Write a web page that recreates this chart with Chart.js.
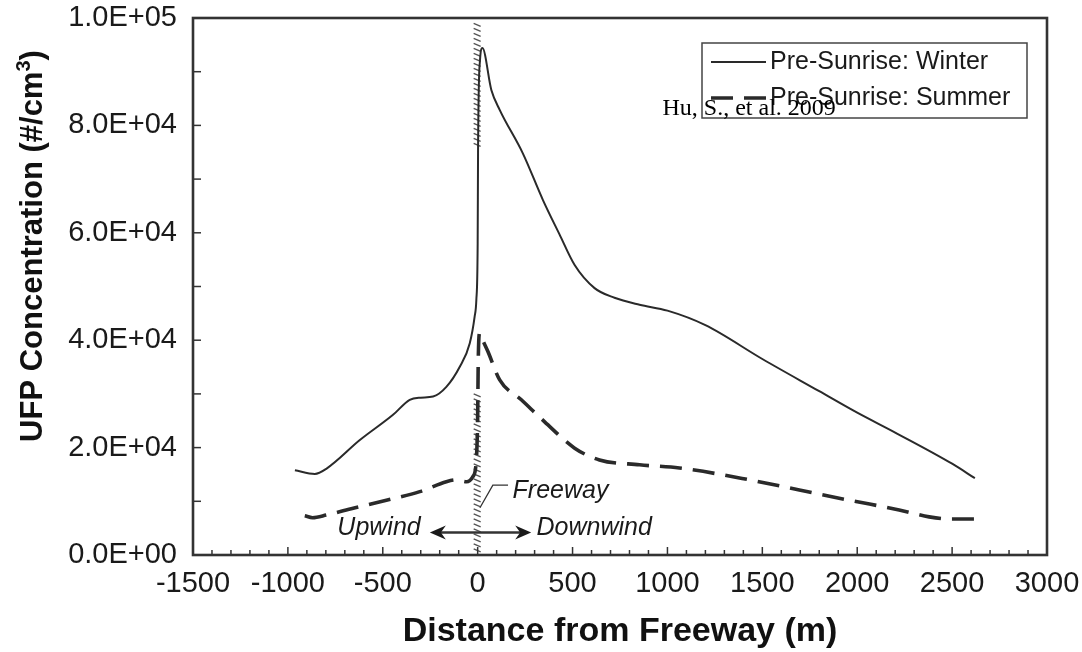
<!DOCTYPE html>
<html>
<head>
<meta charset="utf-8">
<script src="https://cdn.jsdelivr.net/npm/chart.js@4.4.1/dist/chart.umd.min.js"></script>
<style>
  body { margin: 0; background: #fff; }
</style>
</head>
<body>
<canvas id="ufpChart" width="1082" height="652"></canvas>
<script>
// distance from freeway (m) and UFP concentration (#/cm3)
const winterX = [-963, -858, -796, -621, -446, -358, -300, -235, -165, -95, -42, -16, -7, 0, 2, 12, 25, 72, 116, 238, 344, 430, 511, 616, 721, 853, 1000, 1200, 1500, 1800, 2000, 2200, 2500, 2620];
const winterY = [15800, 15100, 16100, 21400, 26100, 28900, 29300, 29500, 31300, 35000, 39400, 44400, 47500, 58000, 75000, 92000, 94400, 86600, 82900, 74800, 66100, 59800, 54000, 49700, 47900, 46600, 45500, 42800, 36500, 30500, 26500, 22800, 17000, 14300];

const summerX = [-911, -870, -797, -656, -481, -305, -165, -112, -59, -25, -7, 0, 3, 10, 20, 54, 116, 230, 353, 511, 642, 853, 1063, 1432, 1695, 1958, 2221, 2379, 2484, 2620];
const summerY = [7300, 6950, 7450, 8700, 10200, 11800, 13650, 14000, 13650, 14600, 17700, 26000, 36000, 41300, 40500, 37900, 32600, 28900, 24800, 19900, 17700, 16800, 16200, 14000, 12100, 10200, 8400, 7100, 6700, 6700];

const seriesLabels = ["Pre-Sunrise: Winter", "Pre-Sunrise: Summer"];

// hatched freeway strip at x = 0 (concentration ranges where it shows)
const freewayBands = [[75500, 99000], [0, 30000]];

const ink = "#2a2a2a";
const sans = "'Liberation Sans', Arial, sans-serif";

const expLabel = (v) => {
  if (v === 0) return "0.0E+00";
  const e = Math.floor(Math.log10(v));
  return (v / Math.pow(10, e)).toFixed(1) + "E+" + String(e).padStart(2, "0");
};

const toPoints = (xs, ys) => xs.map((x, i) => ({x: x, y: ys[i]}));

const framePlugin = {
  id: "frame",
  beforeDatasetsDraw(chart) {
    const {ctx, scales: {x, y}} = chart;
    const x0 = x.getPixelForValue(0);
    ctx.save();
    ctx.strokeStyle = "#555";
    ctx.lineWidth = 1.4;
    freewayBands.forEach(([lo, hi]) => {
      const top = y.getPixelForValue(hi);
      const bottom = y.getPixelForValue(lo);
      for (let py = top; py < bottom - 2; py += 5) {
        ctx.beginPath();
        ctx.moveTo(x0 - 4, py);
        ctx.lineTo(x0 + 3, py + 3);
        ctx.stroke();
      }
    });
    ctx.restore();
  },
  afterDraw(chart) {
    const {ctx, chartArea: a, scales: {x, y}} = chart;
    ctx.save();
    ctx.strokeStyle = "#333";
    ctx.lineWidth = 1.5;
    // inward ticks
    for (let v = x.min + 100; v < x.max; v += 100) {
      const px = x.getPixelForValue(v);
      const len = v % 500 === 0 ? 8 : 5;
      ctx.beginPath();
      ctx.moveTo(px, a.bottom);
      ctx.lineTo(px, a.bottom - len);
      ctx.stroke();
    }
    for (let v = y.min + 10000; v < y.max; v += 10000) {
      const py = y.getPixelForValue(v);
      ctx.beginPath();
      ctx.moveTo(a.left, py);
      ctx.lineTo(a.left + 8, py);
      ctx.stroke();
    }
    ctx.lineWidth = 2.6;
    ctx.strokeRect(a.left, a.top, a.right - a.left, a.bottom - a.top);

    // freeway / wind annotations
    ctx.fillStyle = "#1a1a1a";
    ctx.font = "italic 25px " + sans;
    ctx.textBaseline = "middle";
    ctx.textAlign = "left";
    ctx.fillText("Freeway", x.getPixelForValue(184), y.getPixelForValue(11900));
    ctx.lineWidth = 1.3;
    ctx.beginPath();
    ctx.moveTo(x.getPixelForValue(12), y.getPixelForValue(8800));
    ctx.lineTo(x.getPixelForValue(80), y.getPixelForValue(13000));
    ctx.lineTo(x.getPixelForValue(160), y.getPixelForValue(13000));
    ctx.stroke();

    const ay = y.getPixelForValue(4200);
    ctx.textAlign = "right";
    ctx.fillText("Upwind", x.getPixelForValue(-300), ay - 4);
    ctx.textAlign = "left";
    ctx.fillText("Downwind", x.getPixelForValue(310), ay - 4);
    const ax1 = x.getPixelForValue(-252);
    const ax2 = x.getPixelForValue(282);
    ctx.lineWidth = 2.4;
    ctx.beginPath();
    ctx.moveTo(ax1 + 4, ay);
    ctx.lineTo(ax2 - 4, ay);
    ctx.stroke();
    [[ax1, 1], [ax2, -1]].forEach(([hx, dir]) => {
      ctx.beginPath();
      ctx.moveTo(hx, ay);
      ctx.lineTo(hx + dir * 16, ay - 7);
      ctx.lineTo(hx + dir * 11, ay);
      ctx.lineTo(hx + dir * 16, ay + 7);
      ctx.closePath();
      ctx.fill();
    });

    // legend box
    const lx = a.right - 345, ly = a.top + 25, lw = 325, lh = 75;
    ctx.lineWidth = 1.5;
    ctx.strokeStyle = "#444";
    ctx.strokeRect(lx, ly, lw, lh);
    chart.data.datasets.forEach((ds, i) => {
      const ry = ly + 19 + i * 36;
      ctx.strokeStyle = ink;
      ctx.lineWidth = ds.borderWidth;
      ctx.setLineDash(ds.borderDash || []);
      ctx.beginPath();
      ctx.moveTo(lx + 9, ry);
      ctx.lineTo(lx + 64, ry);
      ctx.stroke();
      ctx.setLineDash([]);
      ctx.font = "25px " + sans;
      ctx.textAlign = "left";
      ctx.fillText(ds.label, lx + 68, ry);
    });

    // citation
    ctx.font = "24px 'Liberation Serif', 'Times New Roman', serif";
    ctx.textBaseline = "alphabetic";
    ctx.fillStyle = "#000";
    ctx.fillText("Hu, S., et al. 2009", x.getPixelForValue(974), 115);

    // y title with superscript
    ctx.translate(33, 246);
    ctx.rotate(-Math.PI / 2);
    ctx.fillStyle = "#111";
    ctx.textBaseline = "middle";
    const main = "UFP Concentration (#/cm";
    ctx.font = "bold 31px " + sans;
    const w1 = ctx.measureText(main).width;
    ctx.font = "bold 20px " + sans;
    const w2 = ctx.measureText("3").width;
    ctx.font = "bold 31px " + sans;
    const w3 = ctx.measureText(")").width;
    let tx = -(w1 + w2 + w3) / 2;
    ctx.textAlign = "left";
    ctx.fillText(main, tx, 0);
    tx += w1;
    ctx.font = "bold 20px " + sans;
    ctx.fillText("3", tx, -9);
    tx += w2;
    ctx.font = "bold 31px " + sans;
    ctx.fillText(")", tx, 0);
    ctx.restore();
  }
};

new Chart(document.getElementById("ufpChart"), {
  type: "line",
  data: {
    datasets: [
      {
        label: seriesLabels[0],
        data: toPoints(winterX, winterY),
        borderColor: ink,
        borderWidth: 2,
        pointRadius: 0,
        cubicInterpolationMode: "monotone",
        fill: false
      },
      {
        label: seriesLabels[1],
        data: toPoints(summerX, summerY),
        borderColor: ink,
        borderWidth: 3.6,
        borderDash: [22, 11],
        pointRadius: 0,
        cubicInterpolationMode: "monotone",
        fill: false
      }
    ]
  },
  options: {
    responsive: false,
    animation: false,
    devicePixelRatio: 1,
    layout: {padding: {top: 18, right: 35, left: 0, bottom: 0}},
    plugins: {legend: {display: false}, tooltip: {enabled: false}},
    scales: {
      x: {
        type: "linear",
        min: -1500,
        max: 3000,
        grid: {display: false, drawTicks: false},
        border: {display: false},
        ticks: {stepSize: 500, padding: 12, color: "#1a1a1a", font: {family: sans, size: 29}, maxRotation: 0, callback: (v) => String(v)},
        title: {display: true, text: "Distance from Freeway (m)", color: "#111", font: {family: sans, size: 34, weight: "bold"}, padding: 0},
        afterFit: (scale) => {
          scale.height = 97;
          scale.paddingLeft = 0;
          scale.paddingRight = 0;
        }
      },
      y: {
        min: 0,
        max: 100000,
        grid: {display: false, drawTicks: false},
        border: {display: false},
        ticks: {stepSize: 20000, padding: 16, color: "#1a1a1a", font: {family: sans, size: 29}, callback: (v) => expLabel(v)},
        afterFit: (scale) => {
          scale.width = 193;
          scale.paddingTop = 0;
          scale.paddingBottom = 0;
        }
      }
    }
  },
  plugins: [framePlugin]
});
</script>
</body>
</html>
